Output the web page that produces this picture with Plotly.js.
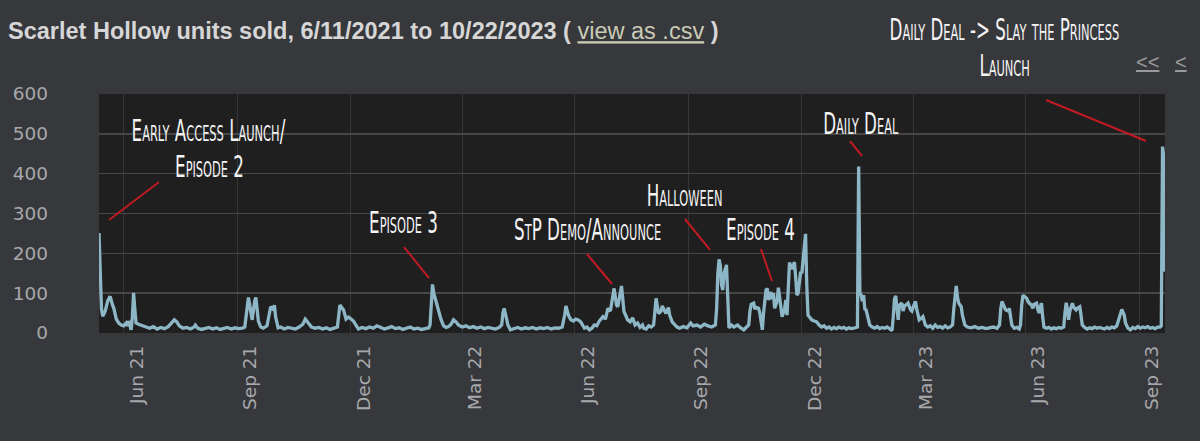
<!DOCTYPE html>
<html><head><meta charset="utf-8">
<script src="https://cdn.plot.ly/plotly-3.0.1.min.js"></script>
<style>
html,body{margin:0;padding:0;background:#37383c;}
#chart{width:1200px;height:441px;}
.annotation:not([data-index="9"]):not([data-index="10"]) text.annotation-text{
  transform-box: fill-box; transform-origin: center; transform: scaleX(0.62);
}
</style>
</head><body><div id="chart"></div>
<script>
// ---- data ----
const days2021 = ["06-11","06-12","06-13","06-14","06-16","06-18","06-20","06-22","06-23","06-25",
"06-27","06-29","07-01","07-03","07-04","07-05","07-07","07-08","07-09","07-10",
"07-11","07-13","07-16","07-19","07-22","07-25","07-28","07-31","08-03","08-06",
"08-09","08-11","08-13","08-15","08-18","08-21","08-24","08-27","08-28","08-30",
"09-02","09-05","09-08","09-11","09-14","09-17","09-20","09-23","09-26","09-29",
"10-02","10-05","10-07","10-09","10-10","10-11","10-13","10-15","10-16","10-17",
"10-18","10-20","10-22","10-25","10-27","10-28","10-30","10-31","11-01","11-03",
"11-05","11-08","11-11","11-14","11-17","11-20","11-23","11-25","11-27","11-28",
"11-30","12-03","12-06","12-09","12-12","12-15","12-18","12-21","12-23","12-24",
"12-26","12-28","12-30"];
const units2021 = [251,150,60,42,55,80,92,70,62,35,
25,20,18,25,18,30,8,40,101,60,
25,22,18,15,12,16,10,14,11,16,
25,33,28,18,12,14,10,15,20,12,
9,12,14,10,13,9,12,14,10,13,
11,12,15,60,89,70,33,80,89,60,
30,15,12,18,50,66,60,70,40,13,
15,10,14,12,10,15,22,35,28,25,
15,12,14,10,13,9,12,15,70,66,
58,35,40];

const days2022 = ["01-01","01-03","01-05","01-07","01-10","01-13","01-16","01-19","01-22","01-25",
"01-28","01-31","02-03","02-06","02-09","02-12","02-15","02-18","02-21","02-24",
"02-27","03-02","03-05","03-06","03-07","03-08","03-09","03-10","03-12","03-13",
"03-15","03-17","03-19","03-21","03-23","03-25","03-27","03-29","04-01","04-04",
"04-07","04-10","04-13","04-16","04-19","04-22","04-25","04-28","05-01","05-03",
"05-04","05-05","05-07","05-08","05-10","05-13","05-16","05-19","05-22","05-25",
"05-28","05-31","06-03","06-06","06-09","06-12","06-15","06-18","06-21","06-23",
"06-24","06-26","06-28","06-30","07-02","07-04","07-06","07-09","07-11","07-13",
"07-15","07-17","07-19","07-21","07-24","07-26","07-28","07-30","08-01","08-02",
"08-04","08-05","08-07","08-08","08-10","08-12","08-13","08-15","08-17","08-19",
"08-21","08-23","08-25","08-26","08-28","08-30","09-01","09-03","09-04","09-05",
"09-07","09-09","09-10","09-12","09-13","09-15","09-16","09-18","09-20","09-22",
"09-24","09-27","09-30","10-03","10-05","10-08","10-11","10-14","10-17","10-20",
"10-23","10-24","10-25","10-26","10-27","10-28","10-29","10-30","11-01","11-02",
"11-03","11-05","11-07","11-10","11-12","11-15","11-17","11-19","11-20","11-21",
"11-23","11-24","11-25","11-27","11-28","11-29","11-30","12-01","12-03","12-04",
"12-05","12-07","12-08","12-09","12-10","12-12","12-13","12-14","12-16","12-18",
"12-19","12-20","12-21","12-22","12-24","12-25","12-26","12-27","12-28","12-29",
"12-30","12-31"];
const units2022 = [35,30,20,10,14,11,15,12,18,14,
10,13,16,11,13,9,12,15,10,12,
9,11,13,20,80,122,100,88,66,60,
33,18,14,16,22,33,28,20,15,18,
13,16,12,15,11,14,12,10,14,20,
50,62,35,20,8,12,14,10,13,11,
14,10,13,11,14,10,13,12,15,45,
68,45,33,30,35,33,28,12,15,8,
12,20,18,30,41,35,62,55,100,112,
70,66,100,118,54,40,33,28,38,20,
25,14,20,12,10,18,15,20,60,87,
49,55,68,55,49,64,45,28,20,15,
12,16,13,25,18,20,15,22,18,15,
20,60,150,185,170,120,108,150,171,110,
13,20,15,20,14,8,15,20,55,72,
75,60,64,62,50,30,8,50,108,112,
83,103,85,100,62,80,114,90,41,60,
83,45,130,177,160,170,178,140,95,100,
130,154];

const days2023 = ["01-01","01-02","01-03","01-04","01-05","01-06","01-07","01-09","01-11","01-13",
"01-15","01-17","01-19","01-21","01-23","01-25","01-27","01-29","01-31","02-02",
"02-04","02-06","02-08","02-10","02-12","02-14","02-15","02-16","02-17","02-18",
"02-19","02-20","02-21","02-22","02-24","02-25","02-27","03-01","03-03","03-05",
"03-07","03-09","03-11","03-13","03-15","03-16","03-17","03-18","03-19","03-20",
"03-21","03-23","03-24","03-25","03-27","03-28","03-30","03-31","04-02","04-03",
"04-04","04-06","04-08","04-09","04-11","04-13","04-15","04-17","04-19","04-21",
"04-23","04-25","04-27","04-29","05-01","05-03","05-04","05-05","05-06","05-07",
"05-08","05-10","05-11","05-13","05-15","05-18","05-21","05-24","05-27","05-30",
"06-02","06-05","06-08","06-10","06-11","06-12","06-14","06-15","06-17","06-18",
"06-19","06-20","06-22","06-24","06-26","06-27","06-28","06-29","06-30","07-02",
"07-03","07-04","07-06","07-07","07-08","07-10","07-11","07-12","07-13","07-14",
"07-15","07-16","07-18","07-20","07-22","07-24","07-26","07-28","07-30","08-01",
"08-02","08-03","08-04","08-05","08-06","08-08","08-09","08-11","08-12","08-14",
"08-15","08-16","08-18","08-20","08-22","08-24","08-26","08-28","08-30","09-01",
"09-03","09-05","09-07","09-09","09-11","09-13","09-15","09-16","09-17","09-19",
"09-20","09-22","09-24","09-26","09-28","09-30","10-02","10-04","10-06","10-08",
"10-10","10-12","10-14","10-16","10-18","10-19","10-20","10-21","10-22"];
const units2023 = [150,180,220,249,120,45,41,33,30,28,
20,15,18,12,15,10,14,11,15,12,
14,10,13,11,12,15,15,418,100,95,
80,95,60,58,30,20,15,12,16,11,
14,12,15,10,6,40,85,93,60,33,
70,75,55,67,72,75,58,55,72,79,
60,33,38,41,20,15,18,12,20,14,
16,12,18,13,15,20,60,100,118,90,
75,66,45,20,15,13,16,12,14,11,
13,15,12,20,60,79,65,58,55,62,
40,20,12,14,10,20,70,95,92,87,
80,75,70,62,72,75,60,50,65,75,
40,15,12,14,10,13,11,14,12,15,
50,76,60,33,55,75,65,58,62,66,
45,20,14,10,13,11,15,12,14,12,
10,14,11,15,13,18,40,55,59,45,
25,12,8,14,11,16,12,15,13,16,
12,14,11,15,15,18,468,440,154];

const tickDates = ["2021-07-01","2021-10-01","2022-01-01","2022-04-01","2022-07-01",
"2022-10-01","2023-01-01","2023-04-01","2023-07-01","2023-10-01"];
const tickLabels = ["Jun 21","Sep 21","Dec 21","Mar 22","Jun 22","Sep 22","Dec 22","Mar 23","Jun 23","Sep 23"];
const yTicks = [0,100,200,300,400,500,600];
const noteTexts = ["Early Access Launch/","Episode 2","Episode 3","StP Demo/Announce","Halloween",
"Episode 4","Daily Deal","Daily Deal -&gt; Slay the Princess","Launch"];
const titleText = "Scarlet Hollow units sold, 6/11/2021 to 10/22/2023";

// ---- build ----
[[days2021,units2021],[days2022,units2022],[days2023,units2023]].forEach(p=>{
  if(p[0].length!==p[1].length) throw new Error("length mismatch "+p[0].length+" "+p[1].length);
});
const xDates = [].concat(days2021.map(d=>"2021-"+d), days2022.map(d=>"2022-"+d), days2023.map(d=>"2023-"+d));
const yUnits = [].concat(units2021, units2022, units2023);

const trace = {
  x: xDates, y: yUnits, type: "scatter", mode: "lines",
  line: {color: "#8db7c7", width: 3.3}, hoverinfo: "none"
};

const noteFont = {family: "'Liberation Sans Narrow','DejaVu Sans Condensed','Liberation Sans',sans-serif",
  size: 30, color: "#f4f4f4", variant: "small-caps"};
// positions in paper fractions
const notePos = [[0.1032,0.8452],[0.1032,0.6987],[0.2861,0.4644],[0.4578,0.4310],[0.5497,0.5774],
  [0.6201,0.4310],[0.7148,0.8745],[0.8499,1.2678],[0.8499,1.1213]];
const annotations = noteTexts.map((t,i)=>({
  text: t, xref: "paper", yref: "paper", x: notePos[i][0], y: notePos[i][1],
  xanchor: "center", yanchor: "middle", showarrow: false, font: noteFont
}));
annotations.push({text: "<span style='text-decoration:underline'>&lt;&lt;</span>", xref:"paper", yref:"paper",
  x: 0.984, y: 1.134, xanchor:"center", yanchor:"middle", showarrow:false,
  font:{family:"'Liberation Sans',Arial,sans-serif", size:20, color:"#9a9a9c"}});
annotations.push({text: "<span style='text-decoration:underline'>&lt;</span>", xref:"paper", yref:"paper",
  x: 1.015, y: 1.134, xanchor:"center", yanchor:"middle", showarrow:false,
  font:{family:"'Liberation Sans',Arial,sans-serif", size:20, color:"#9a9a9c"}});

const arrows = [[0.0094,0.4728,0.0563,0.6318],[0.2861,0.3598,0.3096,0.2301],[0.4578,0.3305,0.4812,0.2050],
  [0.5497,0.4770,0.5732,0.3473],[0.6210,0.3515,0.6313,0.2176],[0.7045,0.8033,0.7158,0.7406],
  [0.8884,0.9749,0.9822,0.8033]];
const shapes = arrows.map(a=>({type:"line", xref:"paper", yref:"paper", x0:a[0], y0:a[1], x1:a[2], y1:a[3],
  line:{color:"#c01a22", width:2}}));

const layout = {
  width: 1200, height: 441,
  paper_bgcolor: "#37383c", plot_bgcolor: "#1f1f1f",
  margin: {l: 99, r: 35, t: 94, b: 108, pad: 0},
  showlegend: false,
  title: {
    text: "<b>" + titleText + " ( </b><span style='text-decoration:underline;color:#c9cbb6'>view as .csv</span><b> )</b>",
    x: 8/1200, xanchor: "left", xref: "container",
    y: 1 - 31/441, yanchor: "middle", yref: "container",
    font: {family: "'Liberation Sans',Arial,sans-serif", size: 23.5, color: "#d6d6d6"}
  },
  xaxis: {
    type: "date", range: ["2021-06-11", "2023-10-22"],
    tickmode: "array", tickvals: tickDates, ticktext: tickLabels, tickangle: -90,
    ticklabelshift: 13, ticklabelstandoff: 8,
    showgrid: true, gridcolor: "#363636", gridwidth: 1, zeroline: false, showline: false, ticks: "",
    tickfont: {family: "'DejaVu Sans',sans-serif", size: 18.5, color: "#a7a8ab"}
  },
  yaxis: {
    range: [0, 600], tickmode: "array", tickvals: yTicks,
    showgrid: true, gridcolor: "#474747", gridwidth: 1.5, zeroline: false, showline: false, ticks: "",
    ticklabelstandoff: 50,
    tickfont: {family: "'DejaVu Sans',sans-serif", size: 18.5, color: "#a7a8ab"}
  },
  annotations: annotations,
  shapes: shapes
};
Plotly.newPlot("chart", [trace], layout, {staticPlot: true, displayModeBar: false});
</script>
</body></html>
